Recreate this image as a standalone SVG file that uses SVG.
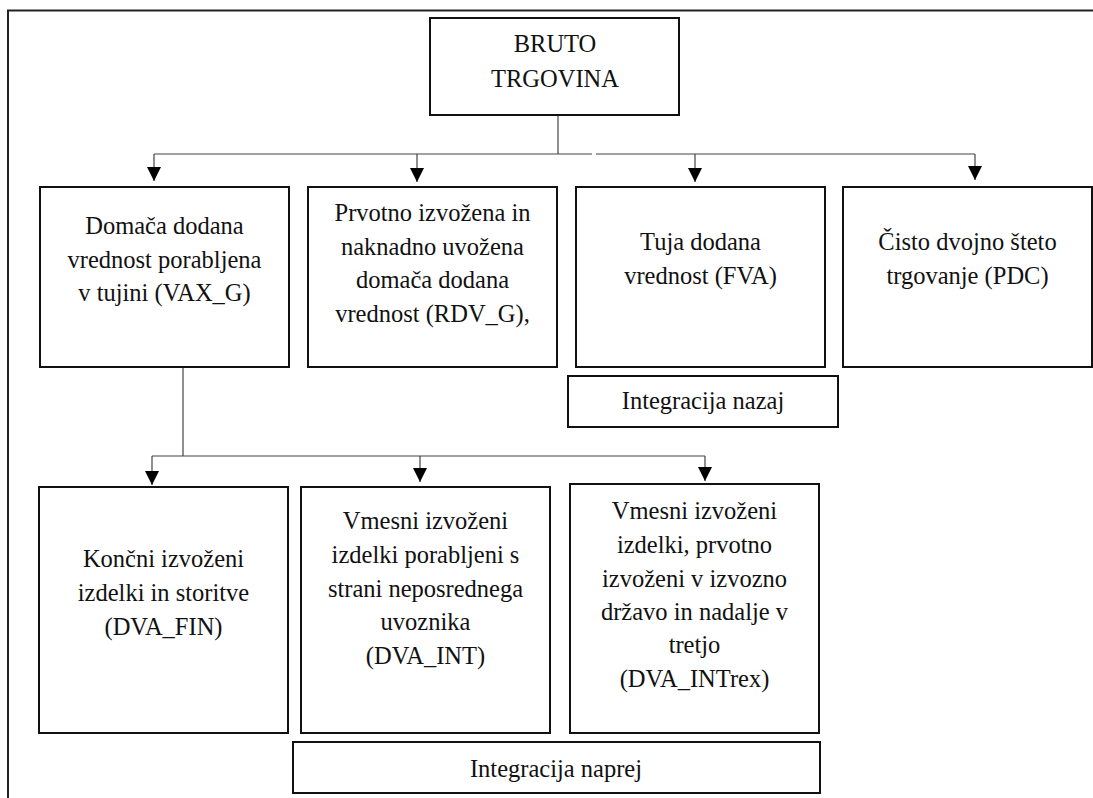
<svg xmlns="http://www.w3.org/2000/svg" width="1093" height="798" viewBox="0 0 1093 798">
<defs>
<style>
.box{fill:#fff;stroke:#111;stroke-width:2}
.frame{fill:none;stroke:#222;stroke-width:2}
.conn{fill:none;stroke:#444;stroke-width:1.2}
.t{font-family:'Liberation Serif',Tinos,'Times New Roman','DejaVu Serif',serif;font-size:24.5px;fill:#111;text-anchor:middle}
</style>
<marker id="arr" viewBox="0 0 14 14" refX="14" refY="7" markerWidth="14" markerHeight="14" markerUnits="userSpaceOnUse" orient="auto">
<path d="M0,0 L14,7 L0,14 z" fill="#000"/>
</marker>
</defs>
<rect width="1093" height="798" fill="#fff"/>
<path class="frame" d="M8,798 V10.5 H1093"/>

<g id="connectors">
<path class="conn" d="M558,115 V154"/>
<path class="conn" d="M154,154 H592 M596,154 H975"/>
<path class="conn" d="M154,154 V181" marker-end="url(#arr)"/>
<path class="conn" d="M417,154 V182" marker-end="url(#arr)"/>
<path class="conn" d="M695,154 V182" marker-end="url(#arr)"/>
<path class="conn" d="M975,154 V180" marker-end="url(#arr)"/>
<path class="conn" d="M183,367 V456"/>
<path class="conn" d="M152,456 H705"/>
<path class="conn" d="M152,456 V485" marker-end="url(#arr)"/>
<path class="conn" d="M420,456 V482" marker-end="url(#arr)"/>
<path class="conn" d="M705,456 V481" marker-end="url(#arr)"/>
</g>

<g font-family="Liberation Serif, Tinos, Times New Roman, DejaVu Serif, serif">
<g id="bruto">
<rect class="box" x="430" y="18" width="249" height="97"/>
<text class="t" x="555" y="52">BRUTO</text>
<text class="t" x="555" y="87">TRGOVINA</text>
</g>

<g id="vax">
<rect class="box" x="40" y="187" width="249" height="180"/>
<text class="t" x="164.5" y="234">Domača dodana</text>
<text class="t" x="164.5" y="268">vrednost porabljena</text>
<text class="t" x="164.5" y="301">v tujini (VAX_G)</text>
</g>

<g id="rdv">
<rect class="box" x="308" y="187" width="249" height="180"/>
<text class="t" x="432.5" y="221">Prvotno izvožena in</text>
<text class="t" x="432.5" y="255">naknadno uvožena</text>
<text class="t" x="432.5" y="288">domača dodana</text>
<text class="t" x="432.5" y="322">vrednost (RDV_G),</text>
</g>

<g id="fva">
<rect class="box" x="576" y="187" width="249" height="180"/>
<text class="t" x="700.5" y="250">Tuja dodana</text>
<text class="t" x="700.5" y="284">vrednost (FVA)</text>
</g>

<g id="pdc">
<rect class="box" x="843" y="187" width="249" height="180"/>
<text class="t" x="967.5" y="250">Čisto dvojno šteto</text>
<text class="t" x="967.5" y="284">trgovanje (PDC)</text>
</g>

<g id="nazaj">
<rect class="box" x="568" y="376" width="270" height="51"/>
<text class="t" x="703" y="409">Integracija nazaj</text>
</g>

<g id="dvafin">
<rect class="box" x="39" y="487" width="249" height="246"/>
<text class="t" x="163.5" y="567">Končni izvoženi</text>
<text class="t" x="163.5" y="601">izdelki in storitve</text>
<text class="t" x="163.5" y="635">(DVA_FIN)</text>
</g>

<g id="dvaint">
<rect class="box" x="301" y="487" width="249" height="246"/>
<text class="t" x="425.5" y="529">Vmesni izvoženi</text>
<text class="t" x="425.5" y="563">izdelki porabljeni s</text>
<text class="t" x="425.5" y="597">strani neposrednega</text>
<text class="t" x="425.5" y="630">uvoznika</text>
<text class="t" x="425.5" y="664">(DVA_INT)</text>
</g>

<g id="dvaintrex">
<rect class="box" x="570" y="484" width="249" height="249"/>
<text class="t" x="694.5" y="519">Vmesni izvoženi</text>
<text class="t" x="694.5" y="553">izdelki, prvotno</text>
<text class="t" x="694.5" y="587">izvoženi v izvozno</text>
<text class="t" x="694.5" y="620">državo in nadalje v</text>
<text class="t" x="694.5" y="653">tretjo</text>
<text class="t" x="694.5" y="687">(DVA_INTrex)</text>
</g>

<g id="naprej">
<rect class="box" x="293" y="742" width="527" height="51"/>
<text class="t" x="556" y="777">Integracija naprej</text>
</g>
</g>
</svg>
